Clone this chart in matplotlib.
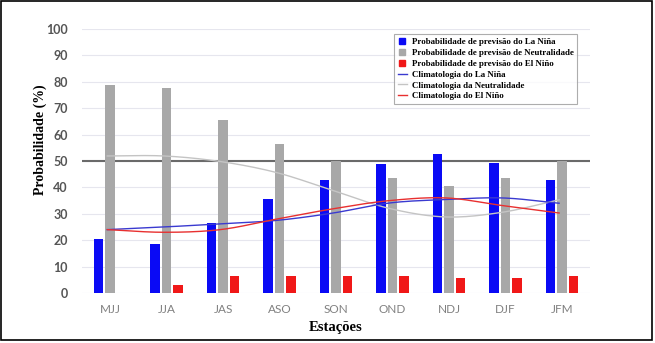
import numpy as np
import matplotlib
matplotlib.use("Agg")
import matplotlib.pyplot as plt
from matplotlib.patches import Rectangle
from matplotlib.lines import Line2D

seasons = ["MJJ", "JJA", "JAS", "ASO", "SON", "OND", "NDJ", "DJF", "JFM"]
prob_lanina = [20.6, 18.5, 26.6, 35.6, 42.8, 48.8, 52.5, 49.4, 42.8]
prob_neutral = [78.8, 77.5, 65.5, 56.3, 50.0, 43.4, 40.4, 43.4, 50.0]
prob_elnino = [0.0, 2.9, 6.6, 6.6, 6.6, 6.6, 5.8, 5.8, 6.6]
clim_lanina = [24.0, 25.0, 26.2, 27.5, 30.3, 34.1, 35.4, 36.0, 34.0]
clim_neutral = [51.9, 51.9, 49.8, 45.6, 38.8, 32.0, 28.8, 30.6, 35.3]
clim_elnino = [24.0, 23.0, 24.0, 28.0, 31.9, 35.0, 36.0, 33.1, 30.3]
yticks = list(range(0, 101, 10))

labels = ["Probabilidade de previsão do La Niña",
          "Probabilidade de previsão de Neutralidade",
          "Probabilidade de previsão do El Niño",
          "Climatologia do La Niña",
          "Climatologia da Neutralidade",
          "Climatologia do El Niño"]

c_blue = "#0a0af5"
c_grey = "#a8a8a8"
c_red = "#f01818"
c_lblue = "#3a3ad0"
c_lgrey = "#c4c4c4"
c_lred = "#e83030"


def smooth(y, n=20):
    """Catmull-Rom spline through the points."""
    y = np.asarray(y, float)
    x = np.arange(len(y), dtype=float)
    P = np.concatenate([[2 * y[0] - y[1]], y, [2 * y[-1] - y[-2]]])
    xs, ys = [], []
    for i in range(len(y) - 1):
        p0, p1, p2, p3 = P[i], P[i + 1], P[i + 2], P[i + 3]
        t = np.linspace(0, 1, n, endpoint=False)
        v = 0.5 * ((2 * p1) + (-p0 + p2) * t + (2 * p0 - 5 * p1 + 4 * p2 - p3) * t ** 2
                   + (-p0 + 3 * p1 - 3 * p2 + p3) * t ** 3)
        xs.append(x[i] + t)
        ys.append(v)
    xs.append([x[-1]])
    ys.append([y[-1]])
    return np.concatenate(xs), np.concatenate(ys)


fig = plt.figure(figsize=(6.55, 3.43), dpi=100)
ax = fig.add_axes([0.125, 0.1458, 0.776, 0.7697])

x = np.arange(len(seasons))
w = 0.17
off = 0.205
ax.bar(x - off, prob_lanina, w, color=c_blue, zorder=3)
ax.bar(x, prob_neutral, w, color=c_grey, zorder=3)
ax.bar(x + off, prob_elnino, w, color=c_red, zorder=3)

ax.axhline(50, color="#6a6a6a", lw=1.5, zorder=2)

for data, col in [(clim_neutral, c_lgrey), (clim_lanina, c_lblue), (clim_elnino, c_lred)]:
    sx, sy = smooth(data)
    ax.plot(sx - 0.05, sy, color=col, lw=1.0, zorder=4)

ax.set_xlim(-0.5, 8.5)
ax.set_ylim(0, 100)
ax.set_yticks(yticks)
ax.set_xticks(x)
ax.set_xticklabels(seasons, color="#808080", fontsize=8.5, family="Lato")
ax.set_yticklabels([str(t) for t in yticks], color="#555555", fontsize=9,
                   fontweight="bold", family="Lato")
ax.grid(axis="y", color="#e6e6ee", lw=0.8, zorder=0)
ax.tick_params(axis="y", length=0, pad=10)
ax.tick_params(axis="x", length=0, pad=8)
for s in ax.spines.values():
    s.set_visible(False)

ax.set_ylabel("Probabilidade (%)", family="Liberation Serif", fontweight="bold",
              fontsize=10)
ax.yaxis.set_label_coords(-0.068, 0.58)
ax.set_xlabel("Estações", family="Liberation Serif", fontweight="bold", fontsize=10.5,
              labelpad=4)

handles = [Line2D([], [], marker="s", ls="none", color=c_blue, markersize=5),
           Line2D([], [], marker="s", ls="none", color=c_grey, markersize=5),
           Line2D([], [], marker="s", ls="none", color=c_red, markersize=5),
           Line2D([], [], color=c_lblue, lw=1),
           Line2D([], [], color=c_lgrey, lw=1),
           Line2D([], [], color=c_lred, lw=1)]
leg = ax.legend(handles, labels, loc="upper right", bbox_to_anchor=(0.975, 0.98),
                prop={"family": "Liberation Serif", "weight": "bold", "size": 6.4},
                handlelength=1.0, handletextpad=0.6, labelspacing=0.3,
                borderpad=0.4, frameon=True, fancybox=False, borderaxespad=0)
leg.get_frame().set_edgecolor("#999999")
leg.get_frame().set_linewidth(0.8)
leg.set_zorder(10)

fig.patches.append(Rectangle((1 / 655, 3 / 343), 650.5 / 655, 339 / 343, transform=fig.transFigure,
                             fill=False, edgecolor="black", lw=1.2))

fig.savefig("out.png", dpi=100)
